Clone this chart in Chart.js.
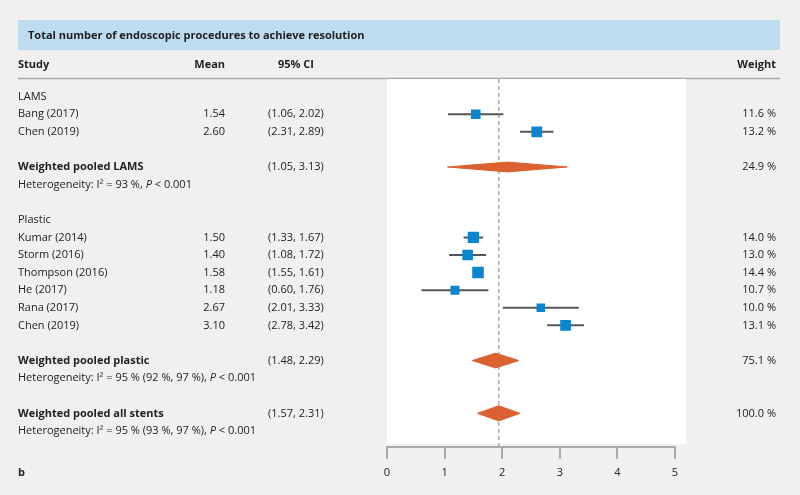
<!DOCTYPE html>
<html>
<head>
<meta charset="utf-8">
<script src="https://cdn.jsdelivr.net/npm/chart.js@4"></script>
<style>
  html, body { margin: 0; padding: 0; background: #f0f0f0; }
  #wrap { width: 800px; height: 495px; position: relative; }
</style>
</head>
<body>
<div id="wrap"><canvas id="forest" width="800" height="495"></canvas></div>
<script>
// --- Data ---
const title = 'Total number of endoscopic procedures to achieve resolution';
const subgroups = ['LAMS', 'Plastic'];
const subgroupRows = [0, 7];

const studies = ['Bang (2017)', 'Chen (2019)', 'Kumar (2014)', 'Storm (2016)', 'Thompson (2016)', 'He (2017)', 'Rana (2017)', 'Chen (2019)'];
const studyRows = [1, 2, 8, 9, 10, 11, 12, 13];
const means = [1.54, 2.60, 1.50, 1.40, 1.58, 1.18, 2.67, 3.10];
const lower = [1.06, 2.31, 1.33, 1.08, 1.55, 0.60, 2.01, 2.78];
const upper = [2.02, 2.89, 1.67, 1.72, 1.61, 1.76, 3.33, 3.42];
const weights = [11.6, 13.2, 14.0, 13.0, 14.4, 10.7, 10.0, 13.1];

const pooledLabels = ['Weighted pooled LAMS', 'Weighted pooled plastic', 'Weighted pooled all stents'];
const pooledRows = [4, 15, 18];
const pooledLower = [1.05, 1.48, 1.57];
const pooledUpper = [3.13, 2.29, 2.31];
const pooledWeights = [24.9, 75.1, 100.0];
const heterogeneity = ['I\u00B2 = 93 %', 'I\u00B2 = 95 % (92 %, 97 %)', 'I\u00B2 = 95 % (93 %, 97 %)'];

const xTicks = [0, 1, 2, 3, 4, 5];
const overallMean = 1.94;

// --- Style ---
const FONT = '"Open Sans", "Noto Sans", sans-serif';
const TEXT = '#222';
const BLUE = '#0a85d0';
const ORANGE = '#dc6130';
const ROW_MIN = -1, ROW_MAX = 19.9;

const fmtCI = (a, b) => '(' + a.toFixed(2) + ', ' + b.toFixed(2) + ')';
const fmtW = w => w.toFixed(1) + ' %';
const markerSide = w => 8.5 + (w - 10) * 0.7;

// --- Datasets ---
const datasets = [];

// reference line at pooled overall estimate
datasets.push({
  data: [{ x: overallMean, y: ROW_MIN }, { x: overallMean, y: ROW_MAX }],
  borderColor: '#aaa', borderWidth: 1.5, borderDash: [4, 3],
  pointRadius: 0, showLine: true, order: 5
});

// confidence interval whiskers
studies.forEach((s, i) => {
  datasets.push({
    data: [{ x: lower[i], y: studyRows[i] }, { x: upper[i], y: studyRows[i] }],
    borderColor: '#555', borderWidth: 2, pointRadius: 0, showLine: true, order: 4
  });
});

// study point estimates
datasets.push({
  data: studies.map((s, i) => ({ x: means[i], y: studyRows[i] })),
  pointStyle: 'rect',
  pointRadius: weights.map(w => markerSide(w) / Math.SQRT2),
  pointBackgroundColor: BLUE, pointBorderWidth: 0,
  showLine: false, order: 1
});

// pooled diamonds
const diamondHalf = [0.28, 0.42, 0.43];
pooledLabels.forEach((p, i) => {
  const r = pooledRows[i], m = (pooledLower[i] + pooledUpper[i]) / 2, h = diamondHalf[i];
  datasets.push({
    data: [
      { x: pooledLower[i], y: r }, { x: m, y: r - h },
      { x: pooledUpper[i], y: r }, { x: m, y: r + h }, { x: pooledLower[i], y: r }
    ],
    borderColor: ORANGE, backgroundColor: ORANGE, borderWidth: 1,
    fill: 'shape', pointRadius: 0, showLine: true, tension: 0, order: 2
  });
});

// --- Text helpers ---
function txt(ctx, s, x, y, align, weight, size) {
  ctx.font = (weight || 'normal') + ' ' + (size || 11) + 'px ' + FONT;
  ctx.textAlign = align || 'left';
  ctx.textBaseline = 'middle';
  ctx.fillStyle = TEXT;
  ctx.fillText(s, x, y);
}

function richTxt(ctx, parts, x, y, size) {
  let cx = x;
  parts.forEach(([s, style]) => {
    ctx.font = (style || 'normal') + ' ' + size + 'px ' + FONT;
    ctx.textAlign = 'left';
    ctx.textBaseline = 'middle';
    ctx.fillStyle = TEXT;
    ctx.fillText(s, cx, y);
    cx += ctx.measureText(s).width;
  });
}

const tablePlugin = {
  id: 'table',
  beforeDraw(chart) {
    const { ctx, chartArea: a } = chart;
    ctx.save();
    ctx.fillStyle = '#f0f0f0';
    ctx.fillRect(0, 0, chart.width, chart.height);
    // title bar
    ctx.fillStyle = '#bddcf0';
    ctx.fillRect(18, 20, 762, 30);
    txt(ctx, title, 28, 36, 'left', 'bold', 11);
    // header
    txt(ctx, 'Study', 18, 65, 'left', 'bold', 11);
    txt(ctx, 'Mean', 225, 65, 'right', 'bold', 11);
    txt(ctx, '95% CI', 296, 65, 'center', 'bold', 11);
    txt(ctx, 'Weight', 776, 65, 'right', 'bold', 11);
    ctx.strokeStyle = '#a8a8a8';
    ctx.lineWidth = 1.5;
    ctx.beginPath();
    ctx.moveTo(18, 78.5);
    ctx.lineTo(780, 78.5);
    ctx.stroke();
    // plot panel
    ctx.fillStyle = '#ffffff';
    ctx.fillRect(a.left, a.top, a.right - a.left + 11, a.bottom - a.top - 3);
    ctx.restore();
  },
  afterDraw(chart) {
    const { ctx } = chart;
    const y = chart.scales.y;
    ctx.save();
    subgroups.forEach((g, i) => txt(ctx, g, 18, y.getPixelForValue(subgroupRows[i])));
    studies.forEach((s, i) => {
      const py = y.getPixelForValue(studyRows[i]);
      txt(ctx, s, 18, py);
      txt(ctx, means[i].toFixed(2), 225, py, 'right');
      txt(ctx, fmtCI(lower[i], upper[i]), 268, py);
      txt(ctx, fmtW(weights[i]), 776, py, 'right');
    });
    pooledLabels.forEach((p, i) => {
      const py = y.getPixelForValue(pooledRows[i]);
      txt(ctx, p, 18, py, 'left', 'bold');
      txt(ctx, fmtCI(pooledLower[i], pooledUpper[i]), 268, py);
      txt(ctx, fmtW(pooledWeights[i]), 776, py, 'right');
      const hy = y.getPixelForValue(pooledRows[i] + 1);
      richTxt(ctx, [['Heterogeneity: ' + heterogeneity[i] + ', '], ['P', 'italic'], [' < 0.001']], 18, hy, 11);
    });
    txt(ctx, 'b', 18, 473, 'left', 'bold', 11);
    ctx.restore();
  }
};

new Chart(document.getElementById('forest'), {
  type: 'scatter',
  data: { datasets },
  options: {
    responsive: false,
    animation: false,
    layout: { padding: { left: 387, right: 125, top: 79, bottom: 9 } },
    plugins: { legend: { display: false }, tooltip: { enabled: false } },
    scales: {
      x: {
        type: 'linear', min: xTicks[0], max: xTicks[xTicks.length - 1],
        afterBuildTicks: s => { s.ticks = xTicks.map(v => ({ value: v })); },
        ticks: { color: TEXT, font: { family: FONT, size: 11 }, padding: 7 },
        grid: { drawOnChartArea: false, drawTicks: true, tickLength: 12, color: '#aaa', lineWidth: 2 },
        border: { display: true, color: '#aaa', width: 2 }
      },
      y: { display: false, reverse: true, min: ROW_MIN, max: ROW_MAX }
    }
  },
  plugins: [tablePlugin]
});
</script>
</body>
</html>
